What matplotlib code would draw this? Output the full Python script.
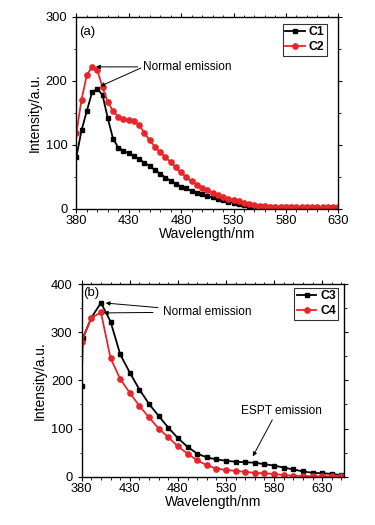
import matplotlib
matplotlib.use("Agg")
import matplotlib.pyplot as plt
from matplotlib.ticker import MultipleLocator

plt.rcParams['font.family'] = ['Liberation Sans', 'DejaVu Sans']

# Panel (a) data (5 nm steps)
wl_a = list(range(380, 635, 5))
c1 = [81, 123, 153, 182, 188, 178, 142, 110, 96, 91, 87, 82, 78, 72, 67, 61, 55, 49, 44, 39,
      35, 32, 28, 25.5, 23, 20, 18, 16, 13.5, 11.5, 9.4, 7.8, 6.3, 5.2, 4.2, 3.5, 3.0, 2.8, 2.6, 2.5,
      2.4, 2.3, 2.2, 2.2, 2.1, 2.1, 2.0, 2.0, 2.0, 2.0, 2.0]
c2 = [118, 171, 209, 222, 217, 190, 167, 153, 144, 140, 139, 138, 131, 119, 107, 97, 88.5, 81, 73, 65,
      57, 49.5, 43, 38, 33, 29, 25.5, 22, 19, 16, 14, 12, 10, 8.3, 6.8, 5.2, 4.4, 3.8, 3.4, 3.1,
      2.9, 2.8, 2.7, 2.6, 2.5, 2.5, 2.4, 2.4, 2.3, 2.3, 2.3]

# Panel (b) data (10 nm steps)
wl_c3 = [380, 381] + list(range(390, 660, 10))
c3 = [189, 287, 330, 361, 322, 254, 216, 181, 151, 126, 102, 80, 62, 48, 40, 36, 33, 31, 30, 29,
      26, 23, 19, 15, 11, 8, 7, 6, 3]
wl_c4 = list(range(380, 660, 10))
c4 = [280, 330, 341, 246, 203, 174, 147, 123, 100, 82, 63, 48, 34, 24, 17, 14, 12, 10, 8, 7,
      5.5, 3.5, 2, 1.5, 1, 1, 1, 2]

RED = '#e8262a'
fig = plt.figure(figsize=(3.75, 5.25), dpi=100)

def style(ax, xlim, ylim):
    ax.set_xlim(*xlim)
    ax.set_ylim(*ylim)
    ax.xaxis.set_major_locator(MultipleLocator(50))
    ax.xaxis.set_minor_locator(MultipleLocator(10))
    ax.yaxis.set_major_locator(MultipleLocator(100))
    ax.yaxis.set_minor_locator(MultipleLocator(50))
    ax.tick_params(which='both', direction='out', top=True, right=True, labelsize=9.3)
    ax.tick_params(axis='x', pad=1.5)
    ax.tick_params(axis='y', pad=3.5)
    ax.tick_params(which='major', length=3, width=0.8)
    ax.tick_params(which='minor', length=1.8, width=0.6)
    for s in ax.spines.values():
        s.set_linewidth(1.0)
    ax.set_xlabel('Wavelength/nm', fontsize=10, labelpad=0)
    ax.set_ylabel('Intensity/a.u.', fontsize=10, labelpad=3)

ax1 = fig.add_axes([0.2035, 0.602, 0.6987, 0.3657])
ax1.plot(wl_a, c1, '-s', color='black', ms=3.4, lw=1.3, label='C1')
ax1.plot(wl_a, c2, '-o', color=RED, ms=3.8, lw=1.3, label='C2')
style(ax1, (380, 630), (0, 300))
ax1.set_xticks([380, 430, 480, 530, 580, 630])
ax1.text(383, 277, '(a)', fontsize=9.5, va='center')
ap = dict(arrowstyle='-|>', color='black', lw=0.7, mutation_scale=6)
ax1.annotate('Normal emission', xy=(396, 222), xytext=(444, 222), fontsize=8.6,
             va='center', arrowprops=ap)
ax1.annotate('', xy=(400.5, 190), xytext=(444, 222), arrowprops=ap)
leg = ax1.legend(loc='upper right', bbox_to_anchor=(0.955, 0.965),
                 prop={'weight': 'bold', 'size': 8.8}, frameon=True, fancybox=False,
                 edgecolor='black', handlelength=1.6, handletextpad=0.3,
                 borderpad=0.2, labelspacing=0.25, borderaxespad=0)
leg.get_frame().set_linewidth(0.8)

ax2 = fig.add_axes([0.2179, 0.092, 0.7003, 0.367])
ax2.plot(wl_c3, c3, '-s', color='black', ms=3.4, lw=1.3, label='C3')
ax2.plot(wl_c4, c4, '-o', color=RED, ms=3.8, lw=1.3, label='C4')
style(ax2, (380, 653), (0, 400))
ax2.set_xticks([380, 430, 480, 530, 580, 630])
ax2.text(381, 381, '(b)', fontsize=9.5, va='center')
ax2.annotate('Normal emission', xy=(402, 361), xytext=(465, 342), fontsize=8.6,
             va='center', arrowprops=ap)
ax2.annotate('', xy=(400, 340), xytext=(457, 341), arrowprops=ap)
ax2.annotate('ESPT emission', xy=(556.5, 37), xytext=(546, 136), fontsize=8.6,
             va='center', arrowprops=dict(arrowstyle='-|>', color='black', lw=0.7,
                                          mutation_scale=6, shrinkA=0,
                                          relpos=(0.4, 0)))
leg2 = ax2.legend(loc='upper right', bbox_to_anchor=(0.977, 0.98),
                  prop={'weight': 'bold', 'size': 8.8}, frameon=True, fancybox=False,
                  edgecolor='black', handlelength=1.6, handletextpad=0.3,
                  borderpad=0.2, labelspacing=0.25, borderaxespad=0)
leg2.get_frame().set_linewidth(0.8)

fig.savefig('out.png', dpi=100)
